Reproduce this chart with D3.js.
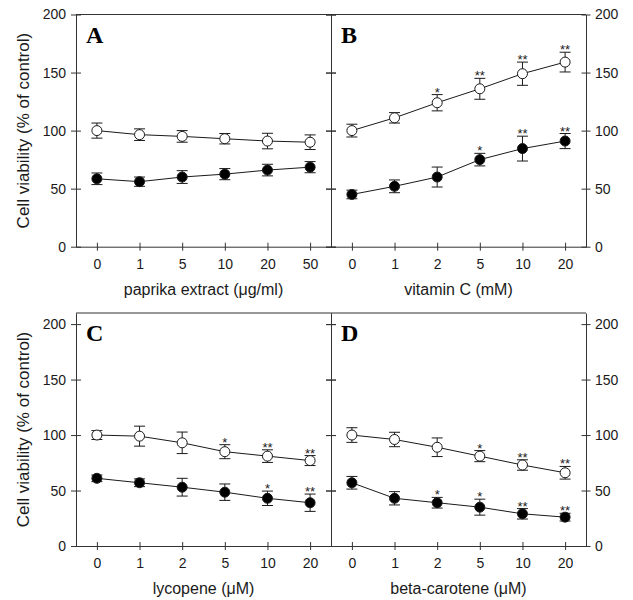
<!DOCTYPE html>
<html>
<head>
<meta charset="utf-8">
<script src="https://cdn.jsdelivr.net/npm/d3@7"></script>
<style>
  body { margin: 0; background: #fff; }
  svg { display: block; font-family: Arial, "Liberation Sans", sans-serif; }
</style>
</head>
<body>
<svg id="chart" width="633" height="600"></svg>
<script>
// doses (x categories) per panel
let dosesA = ["0", "1", "5", "10", "20", "50"];
let dosesB = ["0", "1", "2", "5", "10", "20"];
let dosesC = ["0", "1", "2", "5", "10", "20"];
let dosesD = ["0", "1", "2", "5", "10", "20"];

// open circles (means and SD)
let openA = [100, 96.5, 95, 93, 91, 90];
let openErrA = [6.5, 5, 5, 4.5, 6.7, 6.3];
let openB = [100, 111, 124, 136, 149, 159];
let openErrB = [5.5, 4.5, 7, 9, 10, 8.5];
let openC = [100, 99, 93, 85, 81, 77];
let openErrC = [4, 9, 9.7, 6.3, 5.7, 4.5];
let openD = [100, 96, 89, 81, 73, 66];
let openErrD = [6.6, 6.5, 8.4, 5, 4.7, 5.7];

// filled circles
let filledA = [58.5, 56, 60, 62.5, 66, 68.5];
let filledErrA = [5, 4, 5.5, 4.8, 5, 4.8];
let filledB = [45, 52, 60, 75, 84.5, 91];
let filledErrB = [3.7, 5.5, 8.6, 5.4, 10.7, 6.5];
let filledC = [61, 57, 53, 48.5, 43, 39];
let filledErrC = [3, 3.5, 8, 7.4, 6.5, 7.8];
let filledD = [57, 43, 39, 35, 29, 26];
let filledErrD = [5.7, 6, 4.8, 7.2, 4.7, 3.5];

// significance marks
let starsOpenA = ["", "", "", "", "", ""];
let starsFilledA = ["", "", "", "", "", ""];
let starsOpenB = ["", "", "*", "**", "**", "**"];
let starsFilledB = ["", "", "", "*", "**", "**"];
let starsOpenC = ["", "", "", "*", "**", "**"];
let starsFilledC = ["", "", "", "", "*", "**"];
let starsOpenD = ["", "", "", "*", "**", "**"];
let starsFilledD = ["", "", "*", "*", "**", "**"];

let yTicks = [0, 50, 100, 150, 200];
let yTitle = "Cell viability (% of control)";
let xTitles = ["paprika extract (\u03bcg/ml)", "vitamin C (mM)", "lycopene (\u03bcM)", "beta-carotene (\u03bcM)"];
let letters = ["A", "B", "C", "D"];

let svg = d3.select('#chart');

// layout of the four panels
let cols = [[76, 331], [331, 586]];
let rows = [
  {bottom: 246.7, top: 14.5, max: 200},
  {bottom: 546, top: 313, max: 210}
];

let panels = [
  {doses: dosesA, open: openA, openErr: openErrA, filled: filledA, filledErr: filledErrA, sO: starsOpenA, sF: starsFilledA},
  {doses: dosesB, open: openB, openErr: openErrB, filled: filledB, filledErr: filledErrB, sO: starsOpenB, sF: starsFilledB},
  {doses: dosesC, open: openC, openErr: openErrC, filled: filledC, filledErr: filledErrC, sO: starsOpenC, sF: starsFilledC},
  {doses: dosesD, open: openD, openErr: openErrD, filled: filledD, filledErr: filledErrD, sO: starsOpenD, sF: starsFilledD}
];

let ink = '#1a1a1a';
let axisInk = '#333';
let font = 'Arial, "Liberation Sans", sans-serif';

// make ticks cross the axis line
function crossTicks(g, horizontal, len){
  g.selectAll('.tick line')
    .attr(horizontal ? 'y1' : 'x1', -len)
    .attr(horizontal ? 'y2' : 'x2', len)
    .attr('stroke', axisInk);
  g.select('.domain').attr('stroke', axisInk);
}

panels.forEach(function(p, i){
  let col = cols[i % 2];
  let row = rows[Math.floor(i / 2)];
  let isLeft = (i % 2 == 0);

  let x = d3.scalePoint()
    .domain(p.doses)
    .range(col)
    .padding(0.49);

  let y = d3.scaleLinear()
    .domain([0, row.max])
    .range([row.bottom, row.top]);

  let g = svg.append('g');

  // top frame line
  g.append('line')
    .attr('x1', col[0]).attr('x2', col[1])
    .attr('y1', row.top).attr('y2', row.top)
    .attr('stroke', axisInk);

  // bottom axis
  let xAxis = g.append('g')
    .attr('transform', 'translate(0,' + row.bottom + ')')
    .call(d3.axisBottom(x).tickSize(4).tickSizeOuter(0));
  crossTicks(xAxis, true, 4);
  xAxis.selectAll('text')
    .attr('y', 22)
    .attr('dy', 0)
    .attr('font-size', 14)
    .attr('font-family', font)
    .attr('fill', ink);

  // left side axis
  let leftAxis = g.append('g')
    .attr('transform', 'translate(' + col[0] + ',0)')
    .call(d3.axisLeft(y).tickValues(yTicks).tickSize(5).tickSizeOuter(0));
  crossTicks(leftAxis, false, 5);
  leftAxis.selectAll('text')
    .attr('x', -10)
    .attr('font-size', 14)
    .attr('font-family', font)
    .attr('fill', ink)
    .style('display', isLeft ? null : 'none');

  // right side axis
  let rightAxis = g.append('g')
    .attr('transform', 'translate(' + col[1] + ',0)')
    .call(d3.axisRight(y).tickValues(yTicks).tickSize(5).tickSizeOuter(0));
  crossTicks(rightAxis, false, isLeft ? 5 : 4.5);
  rightAxis.selectAll('text')
    .attr('x', 9)
    .attr('font-size', 14)
    .attr('font-family', font)
    .attr('fill', ink)
    .style('display', isLeft ? 'none' : null);

  // axis titles
  g.append('text')
    .attr('x', (col[0] + col[1]) / 2)
    .attr('y', row.bottom + 48)
    .attr('text-anchor', 'middle')
    .attr('font-size', 16)
    .attr('fill', ink)
    .text(xTitles[i]);

  if(isLeft){
    g.append('text')
      .attr('transform', 'translate(29,' + (row.top + row.bottom) / 2 + ') rotate(-90)')
      .attr('text-anchor', 'middle')
      .attr('font-size', 17)
      .attr('fill', ink)
      .text(yTitle);
  }

  // panel letter
  g.append('text')
    .attr('x', col[0] + 10)
    .attr('y', row.top + 28)
    .attr('font-family', '"Liberation Serif", "Times New Roman", serif')
    .attr('font-weight', 'bold')
    .attr('font-size', 24)
    .attr('fill', '#000')
    .text(letters[i]);

  // series: filled then open
  let series = [
    {vals: p.filled, err: p.filledErr, stars: p.sF, fill: '#000'},
    {vals: p.open, err: p.openErr, stars: p.sO, fill: '#fff'}
  ];

  series.forEach(function(s){
    let pts = s.vals.map(function(v, k){ return {d: p.doses[k], v: v, e: s.err[k], s: s.stars[k]}; });

    g.append('path')
      .datum(pts)
      .attr('fill', 'none')
      .attr('stroke', ink)
      .attr('stroke-width', 1)
      .attr('d', d3.line().x(function(d){ return x(d.d); }).y(function(d){ return y(d.v); }));

    let bars = g.append('g').attr('stroke', ink).attr('stroke-width', 1);
    bars.selectAll('.ebar')
      .data(pts)
      .enter().append('path')
      .attr('class', 'ebar')
      .attr('fill', 'none')
      .attr('d', function(d){
        let cx = x(d.d), y0 = y(d.v + d.e), y1 = y(d.v - d.e);
        return 'M' + (cx - 5.5) + ',' + y0 + 'H' + (cx + 5.5) +
               'M' + cx + ',' + y0 + 'V' + y1 +
               'M' + (cx - 5.5) + ',' + y1 + 'H' + (cx + 5.5);
      });

    g.selectAll(null)
      .data(pts)
      .enter().append('circle')
      .attr('cx', function(d){ return x(d.d); })
      .attr('cy', function(d){ return y(d.v); })
      .attr('r', 5)
      .attr('fill', s.fill)
      .attr('stroke', ink)
      .attr('stroke-width', 1);

    g.selectAll(null)
      .data(pts.filter(function(d){ return d.s != ""; }))
      .enter().append('text')
      .attr('x', function(d){ return x(d.d); })
      .attr('y', function(d){ return y(d.v + d.e) + 2; })
      .attr('text-anchor', 'middle')
      .attr('font-size', 13)
      .attr('fill', ink)
      .text(function(d){ return d.s; });
  });
});
</script>
</body>
</html>
